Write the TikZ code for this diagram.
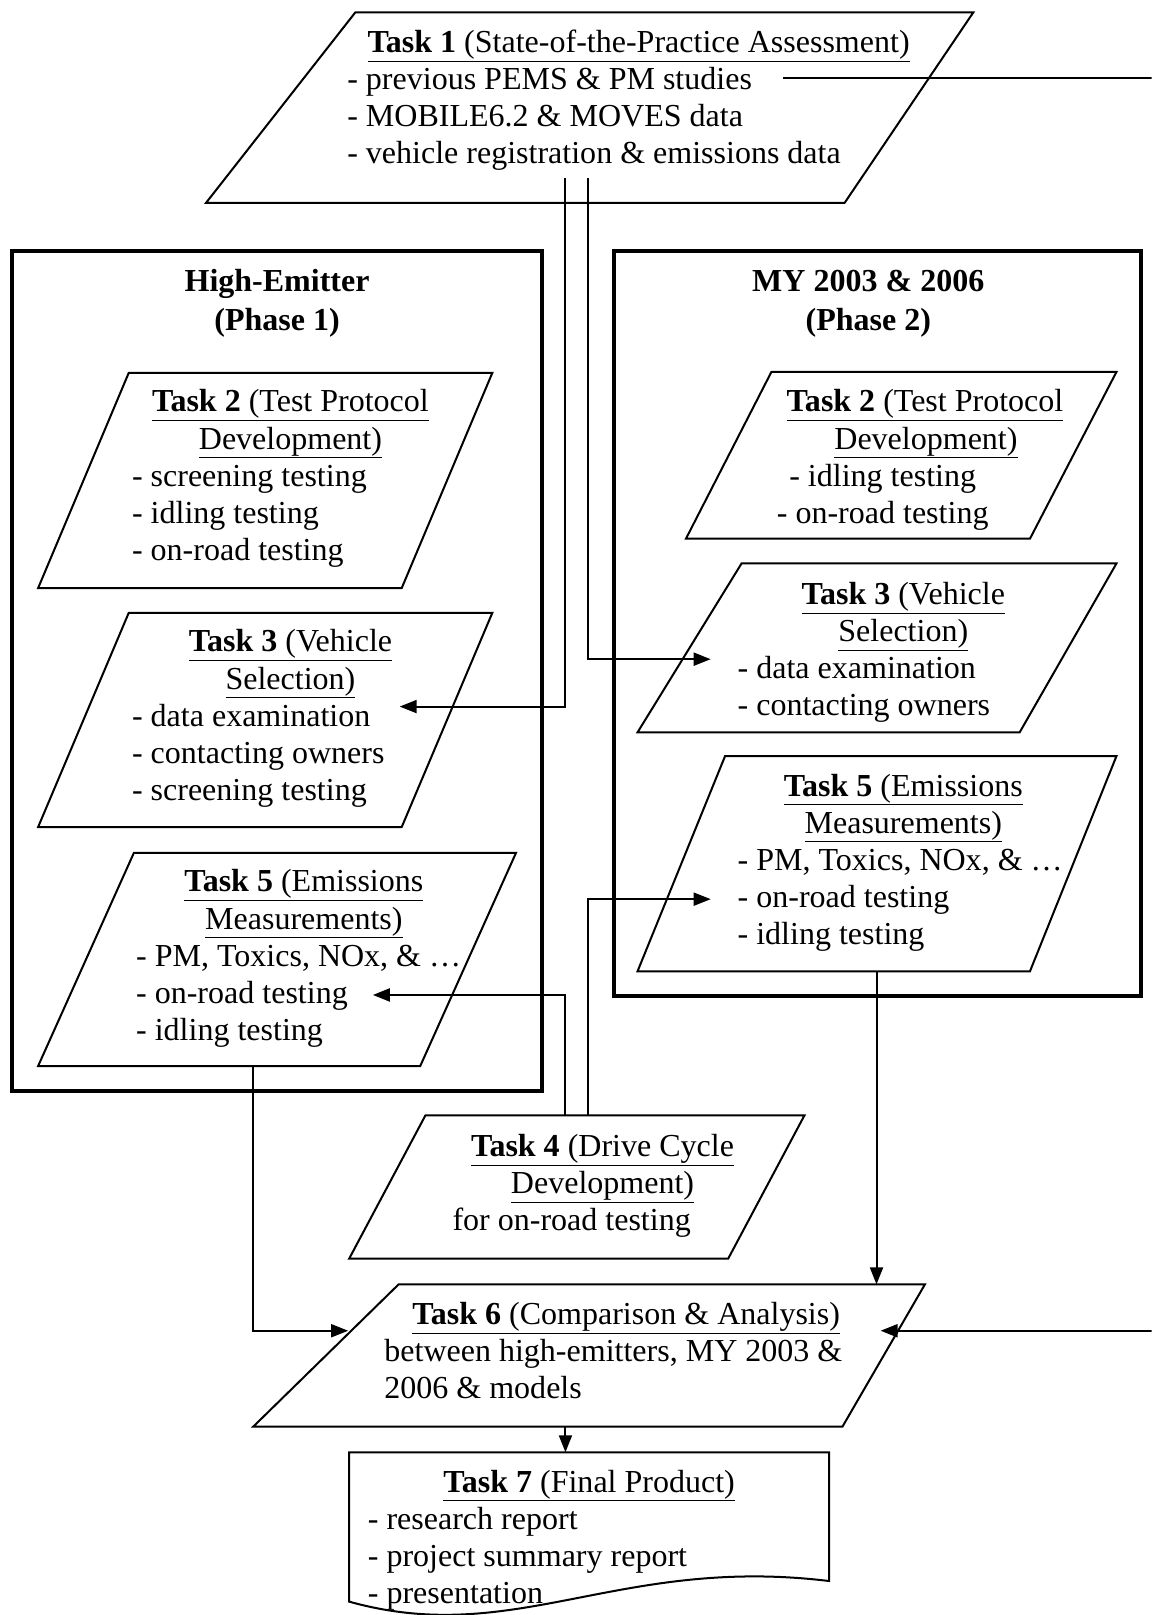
\documentclass[tikz,border=0pt]{standalone}
\usepackage{fontspec}
\setmainfont{Liberation Serif}
\usetikzlibrary{arrows.meta}
\newcommand{\tsk}[2]{\underline{\textbf{Task #1} (#2}}
\begin{document}
\begin{tikzpicture}[x=1.0295pt,y=-1.0295pt,
    every node/.style={inner sep=0pt,font=\fontsize{32}{37}\selectfont},
    ttl/.style={anchor=base},
    itm/.style={anchor=base west},
    shp/.style={draw,line width=2pt,line join=miter},
    phase/.style={draw,line width=3.8pt},
    conn/.style={line width=2pt},
    arr/.style={conn,-{Triangle[length=17pt,width=13pt]}}]
  % page size
  \useasboundingbox (0,0) rectangle (1118,1568);
  \clip (0,0) rectangle (1118,1568);

  % Phase frames
  \draw[phase] (12,244) rectangle (526,1059);
  \draw[phase] (596,244) rectangle (1108,967);
  \node[ttl,font=\fontsize{32}{37}\selectfont\bfseries] (ph1a) at (269,283) {High-Emitter};
  \node[ttl,font=\fontsize{32}{37}\selectfont\bfseries] (ph1b) at (269,321) {(Phase 1)};
  \node[ttl,font=\fontsize{32}{37}\selectfont\bfseries] (ph2a) at (843,283) {MY 2003 \& 2006};
  \node[ttl,font=\fontsize{32}{37}\selectfont\bfseries] (ph2b) at (843,321) {(Phase 2)};

  % Task 1
  \draw[shp] (345,12) -- (945,12) -- (820,197) -- (200,197) -- cycle;
  \node[ttl] (t1) at (620,51) {\tsk{1}{State-of-the-Practice Assessment)}};
  \foreach \t [count=\i] in {previous PEMS \& PM studies, MOBILE6.2 \& MOVES data,
      vehicle registration \& emissions data}
    \node[itm] (t1-\i) at (337,51+36*\i) {- \t};

  % Task 2, phase 1
  \draw[shp] (125,362) -- (478,362) -- (390,571) -- (37,571) -- cycle;
  \node[ttl] (t2l) at (282,400) {\tsk{2}{Test Protocol}};
  \node[ttl] (t2l-b) at (282,436) {\underline{Development)}};
  \foreach \t [count=\i] in {screening testing, idling testing, on-road testing}
    \node[itm] (t2l-\i) at (128,436+36*\i) {- \t};

  % Task 3, phase 1
  \draw[shp] (125,595) -- (478,595) -- (390,803) -- (37,803) -- cycle;
  \node[ttl] (t3l) at (282,633) {\tsk{3}{Vehicle}};
  \node[ttl] (t3l-b) at (282,669) {\underline{Selection)}};
  \foreach \t [count=\i] in {data examination, contacting owners, screening testing}
    \node[itm] (t3l-\i) at (128,669+36*\i) {- \t};

  % Task 5, phase 1
  \draw[shp] (130,828) -- (501,828) -- (408,1035) -- (37,1035) -- cycle;
  \node[ttl] (t5l) at (295,866) {\tsk{5}{Emissions}};
  \node[ttl] (t5l-b) at (295,902) {\underline{Measurements)}};
  \foreach \t [count=\i] in {{PM, Toxics, NOx, \& \dots}, on-road testing, idling testing}
    \node[itm] (t5l-\i) at (132,902+36*\i) {- \t};

  % Task 2, phase 2
  \draw[shp] (749,361) -- (1084,361) -- (1000,523) -- (666,523) -- cycle;
  \node[ttl] (t2r) at (898,400) {\tsk{2}{Test Protocol}};
  \node[ttl] (t2r-b) at (899,436) {\underline{Development)}};
  \foreach \t [count=\i] in {idling testing, on-road testing}
    \node[ttl] (t2r-\i) at (857,436+36*\i) {- \t};

  % Task 3, phase 2
  \draw[shp] (720,547) -- (1084,547) -- (990,711) -- (619,711) -- cycle;
  \node[ttl] (t3r) at (877,587) {\tsk{3}{Vehicle}};
  \node[ttl] (t3r-b) at (877,623) {\underline{Selection)}};
  \foreach \t [count=\i] in {data examination, contacting owners}
    \node[itm] (t3r-\i) at (716,623+36*\i) {- \t};

  % Task 5, phase 2
  \draw[shp] (704,734) -- (1084,734) -- (1000,943) -- (619,943) -- cycle;
  \node[ttl] (t5r) at (877,773) {\tsk{5}{Emissions}};
  \node[ttl] (t5r-b) at (877,809) {\underline{Measurements)}};
  \foreach \t [count=\i] in {{PM, Toxics, NOx, \& \dots}, on-road testing, idling testing}
    \node[itm] (t5r-\i) at (716,809+36*\i) {- \t};

  % Task 4
  \draw[shp] (413,1083) -- (781,1083) -- (707,1222) -- (339,1222) -- cycle;
  \node[ttl] (t4) at (585,1123) {\tsk{4}{Drive Cycle}};
  \node[ttl] (t4-b) at (585,1159) {\underline{Development)}};
  \node[ttl] (t4-c) at (555,1195) {for on-road testing};

  % Task 6
  \draw[shp] (387,1247) -- (898,1247) -- (818,1385) -- (246,1385) -- cycle;
  \node[ttl] (t6) at (608,1286) {\tsk{6}{Comparison \& Analysis)}};
  \node[itm] (t6-1) at (373,1322) {between high-emitters, MY 2003 \&};
  \node[itm] (t6-2) at (373,1358) {2006 \& models};

  % Task 7 (document shape)
  \draw[shp] (339,1410) -- (805,1410) -- (805,1535)
    .. controls (600,1510) and (500,1600) .. (339,1555) -- cycle;
  \node[ttl] (t7) at (572,1449) {\tsk{7}{Final Product)}};
  \foreach \t [count=\i] in {research report, project summary report, presentation}
    \node[itm] (t7-\i) at (357,1449+36*\i) {- \t};

  % connector ends
  \coordinate (t1a) at (549,173);
  \coordinate (t1b) at (571,173);
  \coordinate (t1c) at (760,76);
  \coordinate (far) at (1140,76);
  \coordinate (t3lin) at (388,686);
  \coordinate (t3rin) at (690,640);
  \coordinate (t4a) at (549,1083);
  \coordinate (t4b) at (571,1083);
  \coordinate (t5lin) at (362,966);
  \coordinate (t5rin) at (690,873);
  \coordinate (t5lout) at (246,1035);
  \coordinate (t5rout) at (851,943);
  \coordinate (t6l) at (338,1292);
  \coordinate (t6t) at (851,1247);
  \coordinate (t6r) at (855,1292);
  \coordinate (t6b) at (549,1385);
  \coordinate (t7t) at (549,1410);

  % connectors
  \draw[arr] (t1a) |- (t3lin);
  \draw[arr] (t1b) |- (t3rin);
  \draw[arr] (t4a) |- (t5lin);
  \draw[arr] (t4b) |- (t5rin);
  \draw[arr] (t5lout) |- (t6l);
  \draw[arr] (t5rout) -- (t6t);
  \draw[arr] (t1c) -- (far) |- (t6r);
  \draw[arr] (t6b) -- (t7t);
\end{tikzpicture}
\end{document}
